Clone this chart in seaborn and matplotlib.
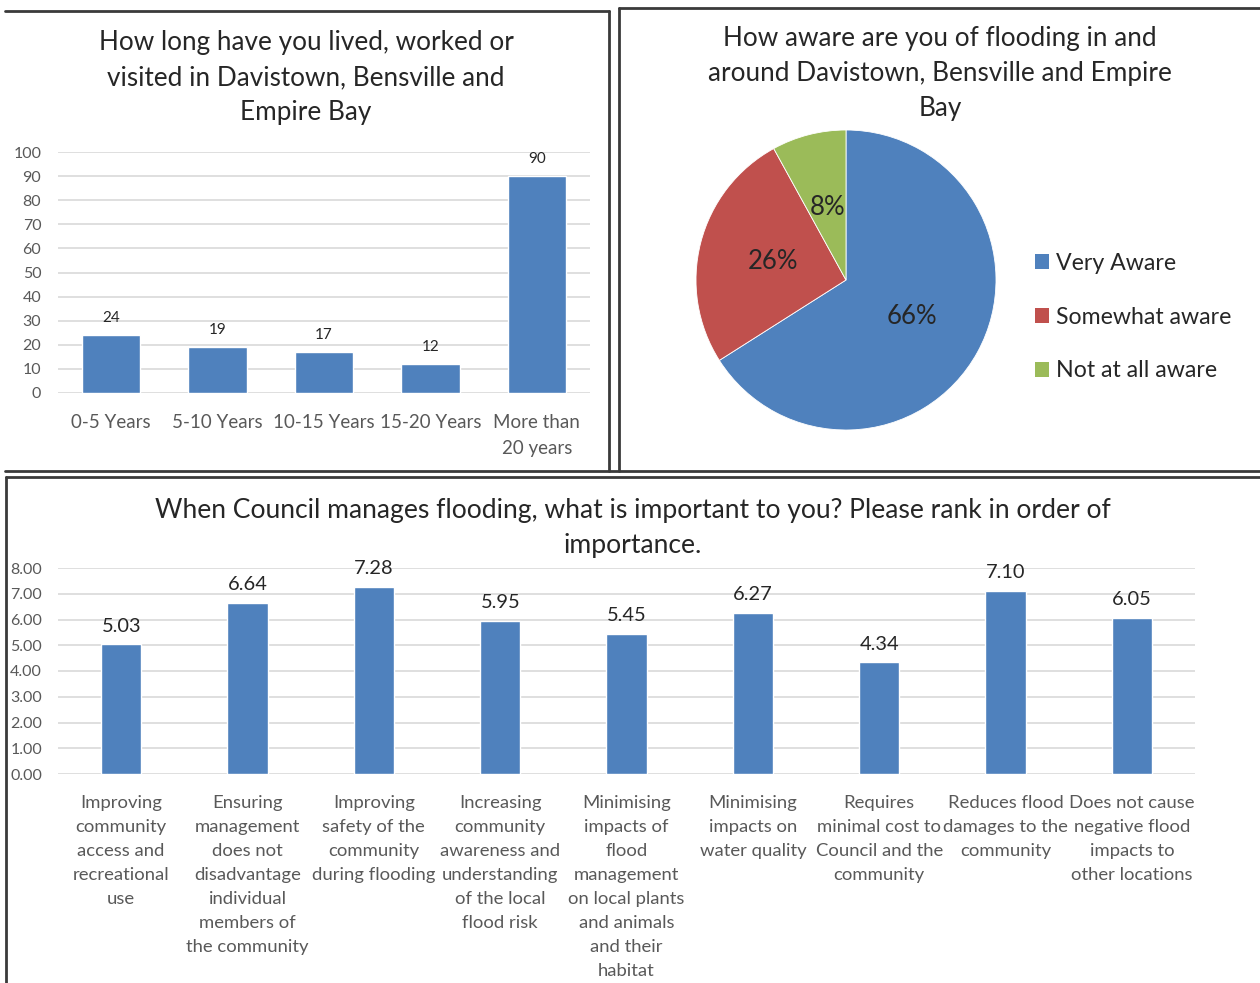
import matplotlib
matplotlib.use("Agg")
import matplotlib.pyplot as plt
from matplotlib.lines import Line2D
from matplotlib.patches import Patch
import seaborn as sns
import pandas as pd

# ---- data ----
residence_cats = ["0-5 Years", "5-10 Years", "10-15 Years", "15-20 Years", "More than\n20 years"]
residence_vals = [24, 19, 17, 12, 90]
residence_ticks = [0, 10, 20, 30, 40, 50, 60, 70, 80, 90, 100]

aware_labels = ["Very Aware", "Somewhat aware", "Not at all aware"]
aware_vals = [66, 26, 8]

priority_cats = [
    "Improving\ncommunity\naccess and\nrecreational\nuse",
    "Ensuring\nmanagement\ndoes not\ndisadvantage\nindividual\nmembers of\nthe community",
    "Improving\nsafety of the\ncommunity\nduring flooding",
    "Increasing\ncommunity\nawareness and\nunderstanding\nof the local\nflood risk",
    "Minimising\nimpacts of\nflood\nmanagement\non local plants\nand animals\nand their\nhabitat",
    "Minimising\nimpacts on\nwater quality",
    "Requires\nminimal cost to\nCouncil and the\ncommunity",
    "Reduces flood\ndamages to the\ncommunity",
    "Does not cause\nnegative flood\nimpacts to\nother locations",
]
priority_vals = [5.03, 6.64, 7.28, 5.95, 5.45, 6.27, 4.34, 7.10, 6.05]
priority_ticks = [0, 1, 2, 3, 4, 5, 6, 7, 8]

# ---- style ----
sns.set_theme(style="white")
plt.rcParams["font.family"] = ["Lato", "DejaVu Sans"]

BLUE = "#4F81BD"
RED = "#C0504D"
GREEN = "#9BBB59"
GRID = "#D9D9D9"
TXT = "#262626"
TICK = "#595959"
BORDER = "#3a3a3a"
TITLE_SIZE = 18.8

W, H = 1260, 983
fig = plt.figure(figsize=(W / 100, H / 100), dpi=100)
fig.patch.set_facecolor("white")


def fx(x):
    return x / W


def fy(y):
    return 1 - y / H


def axes_px(x0, y0, x1, y1):
    return fig.add_axes([fx(x0), fy(y1), (x1 - x0) / W, (y1 - y0) / H])


def style_bar_axes(ax):
    for s in ax.spines.values():
        s.set_visible(False)
    ax.grid(axis="y", color=GRID, linewidth=1.2)
    ax.set_axisbelow(True)
    ax.tick_params(axis="both", length=0)
    ax.set_xlabel("")
    ax.set_ylabel("")


# ---- panel borders ----
border_lines = [
    ((5, 11), (609, 11)),
    ((609, 11), (609, 471)),
    ((619, 8), (619, 471)),
    ((619, 8), (1260, 8)),
    ((5, 471), (1260, 471)),
    ((6, 477), (1260, 477)),
    ((6, 477), (6, 983)),
]
for (x0, y0), (x1, y1) in border_lines:
    fig.add_artist(Line2D([fx(x0), fx(x1)], [fy(y0), fy(y1)],
                          transform=fig.transFigure, color=BORDER, linewidth=2))

# ---- chart 1: length of residence ----
ax1 = axes_px(58, 152, 590, 393)
df1 = pd.DataFrame({"cat": residence_cats, "val": residence_vals})
sns.barplot(data=df1, x="cat", y="val", color=BLUE, saturation=1, width=0.55, ax=ax1)
ax1.set_ylim(0, 100)
ax1.set_xlim(-0.5, len(residence_cats) - 0.5)
ax1.set_yticks(residence_ticks)
ax1.set_yticklabels([str(t) for t in residence_ticks], fontsize=11.5, color=TICK)
ax1.set_xticks(range(len(residence_cats)))
ax1.set_xticklabels(residence_cats, fontsize=13.5, color=TICK, linespacing=1.68)
ax1.tick_params(axis="y", pad=12)
ax1.tick_params(axis="x", pad=15)
style_bar_axes(ax1)
ax1.bar_label(ax1.containers[0], labels=[str(v) for v in residence_vals],
              padding=7, fontsize=11, color=TXT)
fig.text(fx(306), fy(77.5),
         "How long have you lived, worked or\nvisited in Davistown, Bensville and\nEmpire Bay",
         ha="center", va="center", fontsize=TITLE_SIZE, color=TXT, linespacing=1.5)

# ---- chart 2: flood awareness pie ----
r = 150
ax2 = axes_px(846 - r, 280 - r, 846 + r, 280 + r)
wedges, _, autotexts = ax2.pie(
    aware_vals, colors=[BLUE, RED, GREEN], startangle=90, counterclock=False,
    autopct=lambda p: f"{p:.0f}%", pctdistance=0.5, radius=1,
    textprops=dict(fontsize=18.5, color=TXT),
    wedgeprops=dict(linewidth=0.6, edgecolor="white"),
)
ax2.set_xlim(-1, 1)
ax2.set_ylim(-1, 1)
ax2.set_aspect("equal")
fig.text(fx(940), fy(73.5),
         "How aware are you of flooding in and\naround Davistown, Bensville and Empire\nBay",
         ha="center", va="center", fontsize=TITLE_SIZE, color=TXT, linespacing=1.5)
handles = [Patch(facecolor=c, edgecolor="none") for c in [BLUE, RED, GREEN]]
fig.legend(handles, aware_labels, loc="center left",
           bbox_to_anchor=(fx(1026), fy(317)), frameon=False,
           fontsize=16.7, labelcolor=TXT, handlelength=0.6, handleheight=0.6,
           handletextpad=0.3, labelspacing=1.42, borderaxespad=0)

# ---- chart 3: priorities ----
ax3 = axes_px(58, 568, 1195, 774)
df3 = pd.DataFrame({"cat": priority_cats, "val": priority_vals})
sns.barplot(data=df3, x="cat", y="val", color=BLUE, saturation=1, width=0.32, ax=ax3)
ax3.set_ylim(0, 8)
ax3.set_xlim(-0.5, len(priority_cats) - 0.5)
ax3.set_yticks(priority_ticks)
ax3.set_yticklabels([f"{t:.2f}" for t in priority_ticks], fontsize=11.5, color=TICK)
ax3.set_xticks(range(len(priority_cats)))
ax3.set_xticklabels(priority_cats, fontsize=13.3, color=TICK, linespacing=1.62)
ax3.tick_params(axis="y", pad=11.5)
ax3.tick_params(axis="x", pad=15)
style_bar_axes(ax3)
ax3.bar_label(ax3.containers[0], labels=[f"{v:.2f}" for v in priority_vals],
              padding=7, fontsize=14.4, color=TXT)
fig.text(fx(633), fy(528),
         "When Council manages flooding, what is important to you? Please rank in order of\nimportance.",
         ha="center", va="center", fontsize=19.1, color=TXT, linespacing=1.49)

fig.savefig("out.png", dpi=100, facecolor="white")
